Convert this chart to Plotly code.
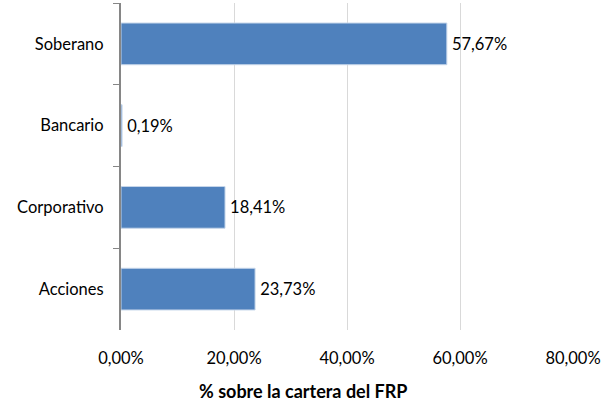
import plotly.graph_objects as go

categories = ["Soberano", "Bancario", "Corporativo", "Acciones"]
values = [57.67, 0.19, 18.41, 23.73]
x_ticks = [0, 20, 40, 60, 80]
x_title = "% sobre la cartera del FRP"

font = "Lato, 'Open Sans', sans-serif"

fig = go.Figure(go.Bar(
    y=categories, x=values, orientation="h",
    marker=dict(color="#4F81BD", line=dict(color="#C6D6EA", width=1)),
    text=["\u2009" + f"{v:.2f}%".replace(".", ",") for v in values],
    textposition="outside", textfont=dict(color="#000000", size=16.5, family=font),
    cliponaxis=False,
    width=0.51,
))

fig.update_layout(
    width=611, height=404,
    margin=dict(l=121, r=38, t=3, b=74, autoexpand=False),
    paper_bgcolor="white", plot_bgcolor="white",
    font=dict(family=font, size=16.5, color="#000000"),
    separators=",.",
    showlegend=False,
    xaxis=dict(range=[0, 80], tickvals=x_ticks, ticktext=[f"{t:.2f}%".replace(".", ",") for t in x_ticks],
               showgrid=True, gridcolor="#D9D9D9", gridwidth=1, zeroline=False, showline=False,
               ticks="", ticklabelstandoff=16, automargin=False),
    yaxis=dict(autorange="reversed", showline=True, linecolor="#868686", linewidth=2,
               ticks="outside", tickson="boundaries", ticklen=6, tickcolor="#868686", tickwidth=1,
               ticklabelstandoff=12, showgrid=False, automargin=False),
    annotations=[dict(text=f"<b>{x_title}</b>", xref="paper", yref="paper", x=0.403, y=-0.188,
                      xanchor="center", yanchor="middle", showarrow=False, font=dict(size=18))],
)

fig.write_html("out.html", post_script="document.body.style.margin='0';",
               config={"displayModeBar": False})
